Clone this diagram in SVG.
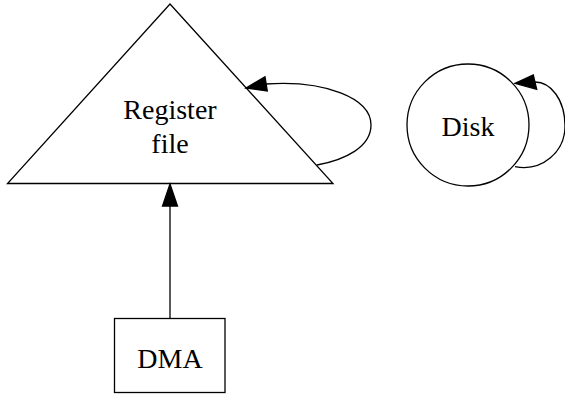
<svg xmlns="http://www.w3.org/2000/svg" width="565" height="394" viewBox="0 0 565 394">
<style>
.shape{fill:#fff;stroke:#000;stroke-width:1.3}
.edge{fill:none;stroke:#000;stroke-width:1.3}
.head{fill:#000;stroke:#000;stroke-width:1.3}
text{font-family:"Liberation Serif","Times New Roman",serif;font-size:28px;fill:#000;text-anchor:middle}
</style>
<rect width="565" height="394" fill="#fff"/>
<g id="regfile">
<polygon class="shape" points="170,4 333,183.5 7.5,183.5"/>
<text x="170" y="119">Register</text>
<text x="170" y="153">file</text>
</g>
<g id="disk">
<circle class="shape" cx="468" cy="125" r="61"/>
<text x="468" y="136">Disk</text>
</g>
<g id="dma">
<rect class="shape" x="114.5" y="318.5" width="110.5" height="74"/>
<text x="170" y="368">DMA</text>
</g>
<g id="edges">
<path class="edge" d="M317,165 C345,160 371,147 371,125 C371,98 325,80 266,84"/>
<polygon class="head" points="246,88 265,76.7 267.3,91"/>
<path class="edge" d="M515,166.7 C542,172 565,152 565,126 C565,100 551,82 535,82"/>
<polygon class="head" points="515,83.3 533.3,75 536.7,89.3"/>
<path class="edge" d="M170,318 L170,205"/>
<polygon class="head" points="170,184 162.5,206 177.5,206"/>
</g>
</svg>
